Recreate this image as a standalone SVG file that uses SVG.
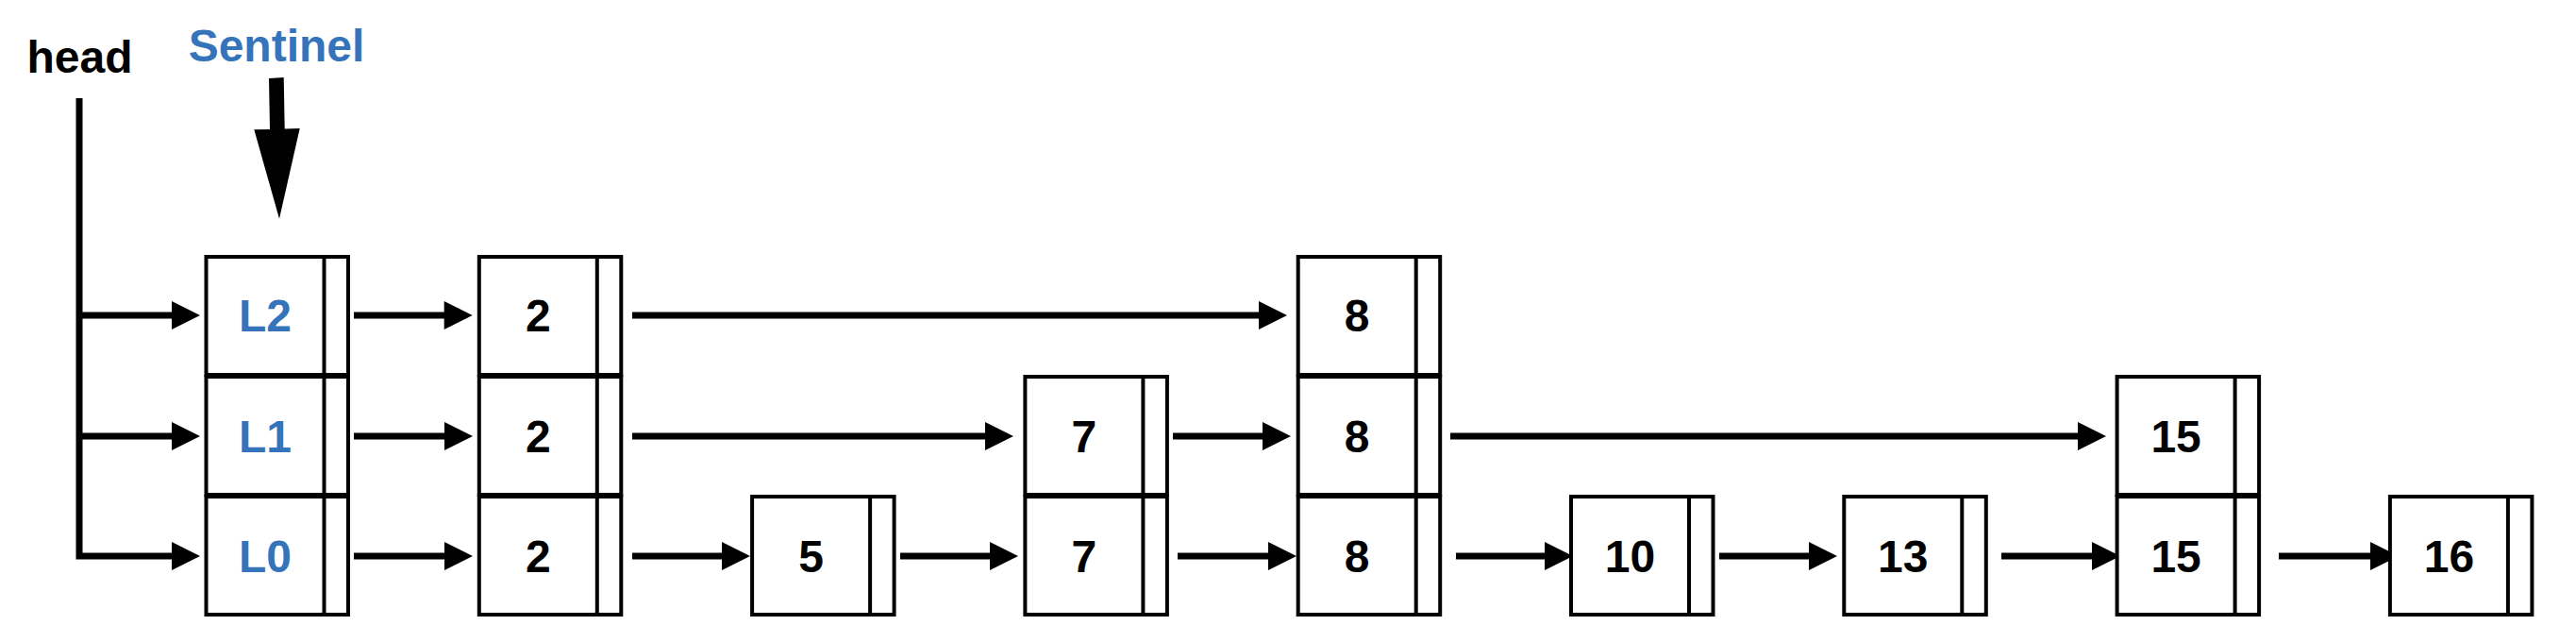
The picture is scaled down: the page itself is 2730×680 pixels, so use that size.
<svg xmlns="http://www.w3.org/2000/svg" width="2730" height="680" viewBox="0 0 2730 680">
<style>
.cell{fill:#fff;stroke:#000;stroke-width:4}
.div{stroke:#000;stroke-width:4}
.t{font-family:"Liberation Sans",Arial,Helvetica,sans-serif;font-weight:bold;font-size:48px;text-anchor:middle;fill:#000}
.b{fill:#3574BA}
.c{fill:none;stroke:#000;stroke-width:7;marker-end:url(#ah)}
</style>
<defs>
<marker id="ah" markerUnits="userSpaceOnUse" markerWidth="30" markerHeight="30" refX="5" refY="15" orient="auto" overflow="visible">
<path d="M0,0 L30,15 L0,30 Z" fill="#000"/>
</marker>
</defs>
<rect width="2730" height="680" fill="#fff"/>

<text class="t" x="84.5" y="77">head</text>
<text class="t b" x="293" y="65">Sentinel</text>
<polygon points="285,83 300.7,82 301.7,136.5 317.7,136 296,231.7 269.3,137.3 286,137" fill="#000"/>

<g id="connectors">
<path d="M84,104 V589 H187" class="c" stroke-linejoin="miter"/>
<path d="M84,334 H187" class="c"/>
<path d="M84,462 H187" class="c"/>
<path d="M375,334 H475.7" class="c"/>
<path d="M670,334 H1339" class="c"/>
<path d="M375,462 H476" class="c"/>
<path d="M670,462 H1049" class="c"/>
<path d="M1243,462 H1343" class="c"/>
<path d="M1537,462 H2207" class="c"/>
<path d="M375,589 H476" class="c"/>
<path d="M670,589 H770" class="c"/>
<path d="M954,589 H1054" class="c"/>
<path d="M1248,589 H1349" class="c"/>
<path d="M1543,589 H1642" class="c"/>
<path d="M1822,589 H1922" class="c"/>
<path d="M2121,589 H2222" class="c"/>
<path d="M2415,589 H2517" class="c"/>
</g>

<g id="sentinel">
<rect class="cell" x="218.5" y="272" width="150.5" height="125"/><line class="div" x1="343.5" y1="272" x2="343.5" y2="397"/>
<rect class="cell" x="218.5" y="399" width="150.5" height="125"/><line class="div" x1="343.5" y1="399" x2="343.5" y2="524"/>
<rect class="cell" x="218.5" y="526" width="150.5" height="125"/><line class="div" x1="343.5" y1="526" x2="343.5" y2="651"/>
<text class="t b" x="281" y="351">L2</text>
<text class="t b" x="281" y="479">L1</text>
<text class="t b" x="281" y="606">L0</text>
</g>

<g id="node2">
<rect class="cell" x="507.8" y="272" width="150.5" height="125"/><line class="div" x1="632.8" y1="272" x2="632.8" y2="397"/>
<rect class="cell" x="507.8" y="399" width="150.5" height="125"/><line class="div" x1="632.8" y1="399" x2="632.8" y2="524"/>
<rect class="cell" x="507.8" y="526" width="150.5" height="125"/><line class="div" x1="632.8" y1="526" x2="632.8" y2="651"/>
<text class="t" x="570.3" y="351">2</text>
<text class="t" x="570.3" y="479">2</text>
<text class="t" x="570.3" y="606">2</text>
</g>

<g id="node5">
<rect class="cell" x="797.1" y="526" width="150.5" height="125"/><line class="div" x1="922.1" y1="526" x2="922.1" y2="651"/>
<text class="t" x="859.6" y="606">5</text>
</g>

<g id="node7">
<rect class="cell" x="1086.4" y="399" width="150.5" height="125"/><line class="div" x1="1211.4" y1="399" x2="1211.4" y2="524"/>
<rect class="cell" x="1086.4" y="526" width="150.5" height="125"/><line class="div" x1="1211.4" y1="526" x2="1211.4" y2="651"/>
<text class="t" x="1148.9" y="479">7</text>
<text class="t" x="1148.9" y="606">7</text>
</g>

<g id="node8">
<rect class="cell" x="1375.7" y="272" width="150.5" height="125"/><line class="div" x1="1500.7" y1="272" x2="1500.7" y2="397"/>
<rect class="cell" x="1375.7" y="399" width="150.5" height="125"/><line class="div" x1="1500.7" y1="399" x2="1500.7" y2="524"/>
<rect class="cell" x="1375.7" y="526" width="150.5" height="125"/><line class="div" x1="1500.7" y1="526" x2="1500.7" y2="651"/>
<text class="t" x="1438.2" y="351">8</text>
<text class="t" x="1438.2" y="479">8</text>
<text class="t" x="1438.2" y="606">8</text>
</g>

<g id="node10">
<rect class="cell" x="1665" y="526" width="150.5" height="125"/><line class="div" x1="1790" y1="526" x2="1790" y2="651"/>
<text class="t" x="1727.5" y="606">10</text>
</g>

<g id="node13">
<rect class="cell" x="1954.3" y="526" width="150.5" height="125"/><line class="div" x1="2079.3" y1="526" x2="2079.3" y2="651"/>
<text class="t" x="2016.8" y="606">13</text>
</g>

<g id="node15">
<rect class="cell" x="2243.6" y="399" width="150.5" height="125"/><line class="div" x1="2368.6" y1="399" x2="2368.6" y2="524"/>
<rect class="cell" x="2243.6" y="526" width="150.5" height="125"/><line class="div" x1="2368.6" y1="526" x2="2368.6" y2="651"/>
<text class="t" x="2306.1" y="479">15</text>
<text class="t" x="2306.1" y="606">15</text>
</g>

<g id="node16">
<rect class="cell" x="2532.9" y="526" width="150.5" height="125"/><line class="div" x1="2657.9" y1="526" x2="2657.9" y2="651"/>
<text class="t" x="2595.4" y="606">16</text>
</g>
</svg>
